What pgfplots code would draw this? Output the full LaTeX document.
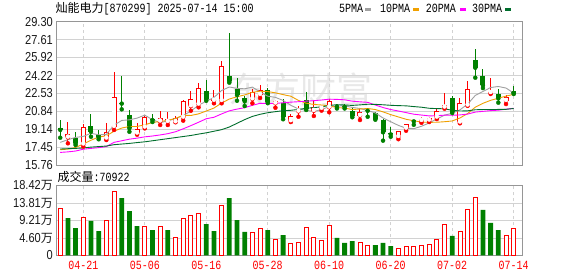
\documentclass[border=0pt]{standalone}
\usepackage{fontspec}
\setmainfont{Liberation Sans}
\newfontfamily\cjkfam{Noto Sans CJK SC}
\newfontfamily\monofam[FakeStretch=0.8]{Liberation Mono}
\newfontfamily\tickfam[FakeStretch=0.85]{Liberation Sans}
\usepackage{pgfplots}
\usepackage{pgfplotstable}
\pgfplotsset{compat=1.18}
\definecolor{cred}{RGB}{255,0,0}
\definecolor{cgreen}{RGB}{0,128,0}
\definecolor{mafive}{RGB}{160,160,160}
\definecolor{maten}{RGB}{240,160,0}
\definecolor{matwenty}{RGB}{255,0,255}
\definecolor{mathirty}{RGB}{0,110,45}
\definecolor{framec}{RGB}{150,150,150}
\definecolor{gridc}{RGB}{210,210,210}
\newcommand\cjk{\cjkfam\fontsize{12}{14}\selectfont}
\newcommand\mono{\monofam\fontsize{12.5}{14}\selectfont}
\newcommand\tickf{\tickfam\fontsize{13}{15}\selectfont}
\pgfplotsset{panel/.style={scale only axis, width=466pt, xmin=-0.55, xmax=60.08,
  anchor=south west,
  axis line style={draw=framec, line width=1pt},
  major tick length=0pt, tick style={draw=none},
  xtick={3,11,19,27,35,43,51,59},
  xmajorgrids, ymajorgrids,
  x grid style={draw=gridc, dash pattern=on 3pt off 3pt, line width=0.8pt},
  y grid style={draw=gridc, line width=0.8pt},
  yticklabel style={font=\tickf, text=black!90, inner sep=0pt, xshift=-3pt}},
  bar/.style 2 args={color=#1, only marks, mark=none, error bars/.cd, y dir=plus, y explicit, error mark=none,
    error bar style={color=#1, solid, line width=#2}}
}
\begin{document}
\pgfplotstableread{
i o h l c
1 18.37 19.82 17.81 18.66
3 17.72 19.60 17.50 19.32
6 18.28 19.70 18.12 18.85
7 19.38 24.55 19.07 22.16
10 18.75 19.70 18.62 19.13
11 19.32 20.42 19.22 20.29
13 19.89 20.86 19.54 20.17
14 19.85 20.74 19.54 20.07
15 19.82 20.42 19.80 20.17
16 20.26 21.90 19.95 21.80
17 21.33 22.75 20.89 22.02
18 21.49 23.48 21.21 23.00
20 21.85 22.82 21.59 21.95
21 21.83 25.56 21.59 25.09
25 21.99 22.94 21.59 22.68
26 22.40 23.32 22.09 22.81
28 21.59 21.90 21.17 21.81
30 19.92 20.58 19.82 20.39
31 20.83 21.33 20.32 21.05
33 20.89 21.90 20.39 21.21
34 21.10 21.40 20.90 21.25
35 21.21 21.99 20.74 21.80
39 20.42 21.02 20.01 20.74
44 18.43 18.97 18.20 18.97
45 19.22 19.66 19.00 19.60
47 19.95 20.32 19.75 20.02
48 19.98 20.32 19.82 20.20
49 20.26 21.11 20.10 20.86
50 21.21 22.60 21.08 21.40
52 19.79 22.05 19.70 21.59
53 21.40 23.69 21.35 22.91
56 22.58 23.98 22.47 22.68
58 21.83 22.35 21.52 22.16
}\up
\pgfplotstableread{
i o h l c
0 19.22 20.01 18.34 19.08
2 18.28 18.88 17.65 17.81
4 19.44 20.58 18.43 18.90
5 18.56 19.07 18.19 18.37
8 21.66 24.17 21.02 21.56
9 20.45 20.96 18.90 19.23
12 20.10 20.55 19.82 20.00
19 22.75 23.76 21.83 21.97
22 24.17 28.26 23.54 23.67
23 22.97 24.01 21.83 22.37
24 22.05 22.27 21.33 21.77
27 22.85 23.00 21.60 21.68
29 21.59 21.97 20.08 20.32
32 21.90 22.68 20.96 21.08
36 21.35 21.50 21.10 21.27
37 21.32 21.50 21.10 21.25
38 20.89 21.21 20.27 20.42
40 20.97 21.02 20.32 20.88
41 20.67 20.74 20.04 20.13
42 20.01 20.14 18.06 18.85
43 18.75 19.38 18.43 18.65
46 20.01 20.05 19.56 19.88
51 22.05 22.25 20.67 20.80
54 25.68 26.75 24.01 24.95
55 24.17 24.83 23.03 23.29
57 22.47 22.94 21.65 22.05
59 22.78 23.22 22.47 22.55
}\down
\pgfplotstableread{
i m5 m10 m20 m30
0 17.90 17.20 16.95 17.27
1 18.15 17.27 17.00 17.30
2 18.37 17.42 17.08 17.33
3 18.46 17.74 17.25 17.37
4 18.76 18.10 17.33 17.45
5 18.61 18.40 17.40 17.50
6 18.65 18.52 17.50 17.55
7 19.52 18.95 17.90 17.68
8 19.97 19.25 18.05 17.74
9 20.03 19.40 18.20 17.80
10 20.19 19.40 18.30 17.88
11 20.47 19.56 18.42 17.95
12 20.04 19.78 18.50 18.05
13 19.76 19.87 18.60 18.15
14 19.93 19.98 18.72 18.25
15 20.14 20.16 18.90 18.35
16 20.44 20.46 19.18 18.45
17 20.85 20.44 19.48 18.55
18 21.41 20.59 19.80 18.68
19 21.79 20.86 20.13 18.80
20 22.14 21.14 20.27 18.95
21 22.80 21.62 20.59 19.10
22 23.13 21.99 20.88 19.35
23 23.00 22.21 21.04 19.70
24 22.96 22.38 21.18 20.05
25 23.12 22.63 21.40 20.35
26 22.66 22.73 21.59 20.55
27 22.26 22.70 21.57 20.70
28 22.15 22.58 21.58 20.80
29 21.86 22.41 21.64 20.89
30 21.40 22.26 21.70 20.93
31 21.05 21.86 21.74 21.01
32 20.93 21.60 21.79 21.12
33 20.81 21.48 21.84 21.18
34 21.00 21.43 21.90 21.26
35 21.28 21.34 21.98 21.38
36 21.32 21.19 21.96 21.46
37 21.36 21.14 21.92 21.43
38 21.20 21.00 21.79 21.39
39 21.10 21.05 21.73 21.44
40 20.91 21.10 21.68 21.50
41 20.68 21.00 21.43 21.49
42 20.20 20.78 21.19 21.45
43 19.85 20.52 21.00 21.40
44 19.50 20.30 20.86 21.37
45 19.24 20.08 20.71 21.35
46 19.19 19.94 20.56 21.28
47 19.42 19.81 20.48 21.22
48 19.73 19.79 20.40 21.12
49 20.11 19.80 20.42 21.09
50 20.47 19.85 20.47 21.07
51 20.65 19.92 20.46 20.93
52 20.97 20.20 20.49 20.86
53 21.51 20.62 20.57 20.88
54 22.33 21.22 20.76 20.98
55 22.71 21.59 20.83 21.00
56 23.08 21.87 20.90 21.00
57 23.18 22.07 20.94 21.01
58 23.03 22.27 21.03 21.02
59 22.55 22.44 21.12 21.10
}\ma
\pgfplotstableread{
i v
0 12.52
3 10.05
6 9.34
7 17.02
11 7.75
13 7.75
15 4.84
16 9.79
17 10.67
18 11.20
21 13.31
25 6.17
26 7.22
28 4.31
30 3.26
31 3.52
32 7.41
33 4.76
34 3.97
35 7.94
39 3.44
40 2.65
44 1.85
45 2.38
46 2.38
47 2.65
48 2.99
49 4.23
50 8.20
52 6.35
53 12.17
54 15.35
58 5.29
59 7.09
}\vred
\pgfplotstableread{
i v
1 9.87
2 7.22
4 9.08
5 6.43
8 15.16
9 11.72
10 7.75
12 6.69
14 6.69
19 8.28
20 6.43
22 15.16
23 9.34
24 6.17
27 6.69
29 5.37
36 4.58
37 3.26
38 3.78
41 2.72
42 3.26
43 2.46
51 5.11
55 11.99
56 8.55
57 6.69
}\vgreen
\begin{tikzpicture}
\useasboundingbox (0,0) rectangle (578pt,276pt);
\fill[white] (0,0) rectangle (578pt,276pt);
\node[text=black!9, font=\cjkfam\fontsize{36}{40}\selectfont, inner sep=0pt] at (300pt,186pt) {东方财富};
% price panel
\begin{axis}[panel, at={(56pt,111pt)}, height=143.3pt,
  ymin=15.76, ymax=29.30,
  ytick={15.76,17.45,19.14,20.84,22.53,24.22,25.92,27.61,29.30},
  yticklabels={15.76,17.45,19.14,20.84,22.53,24.22,25.92,27.61,29.30},
  xticklabels={,,,,,,,}]
\addplot[bar={cred}{1pt}] table[x=i, y=l, y error plus expr=\thisrow{h}-\thisrow{l}] {\up};
\addplot[bar={cgreen}{1pt}] table[x=i, y=l, y error plus expr=\thisrow{h}-\thisrow{l}] {\down};
\addplot[bar={cred}{5pt}] table[x=i, y=o, y error plus expr={max(\thisrow{c}-\thisrow{o},0.1)}] {\up};
\addplot[bar={white}{3.4pt}] table[x=i, y expr=\thisrow{o}+0.076, y error plus expr={max(\thisrow{c}-\thisrow{o}-0.152,0)}] {\up};
\addplot[bar={cgreen}{5pt}] table[x=i, y=c, y error plus expr={max(\thisrow{o}-\thisrow{c},0.1)}] {\down};
\addplot[mafive, line width=0.9pt, mark=none] table[x=i, y=m5] {\ma};
\addplot[maten, line width=0.9pt, mark=none] table[x=i, y=m10] {\ma};
\addplot[matwenty, line width=0.9pt, mark=none] table[x=i, y=m20] {\ma};
\addplot[mathirty, line width=0.9pt, mark=none] table[x=i, y=m30] {\ma};
\end{axis}
% volume panel
\begin{axis}[panel, at={(56pt,20.7pt)}, height=69.6pt,
  ymin=0, ymax=18.42,
  ytick={0,4.60,9.21,13.81,18.42},
  yticklabels={0,4.60{\cjk 万},9.21{\cjk 万},13.81{\cjk 万},18.42{\cjk 万}},
  xticklabels={04-21,05-06,05-16,05-28,06-10,06-20,07-02,07-14},
  xticklabel style={font=\mono, text=cred, anchor=base, inner sep=0pt, yshift=-14pt}]
\addplot[ybar, bar width=4pt, bar shift=0pt, fill=white, draw=cred, line width=0.8pt] table[x=i, y=v] {\vred};
\addplot[ybar, bar width=4.8pt, bar shift=0pt, fill=cgreen, draw=none] table[x=i, y=v] {\vgreen};
\end{axis}
% header texts
\node[anchor=base west, inner sep=0pt] at (55.5pt,263.5pt) {\cjk 灿能电力\mono[870299] 2025-07-14 15:00};
\node[anchor=base west, inner sep=0pt] at (339pt,263.5pt) {\mono 5PMA};
\fill[mafive] (365pt,265pt) rectangle (371pt,267.7pt);
\node[anchor=base west, inner sep=0pt] at (380pt,263.5pt) {\mono 10PMA};
\fill[maten] (413pt,265pt) rectangle (418.5pt,267.7pt);
\node[anchor=base west, inner sep=0pt] at (425.7pt,263.5pt) {\mono 20PMA};
\fill[matwenty] (460pt,265pt) rectangle (465.5pt,267.7pt);
\node[anchor=base west, inner sep=0pt] at (472pt,263.5pt) {\mono 30PMA};
\fill[mathirty] (505pt,265pt) rectangle (510.7pt,267.7pt);
\node[anchor=base west, inner sep=0pt] at (57.5pt,95pt) {\cjk 成交量\mono:70922};
\end{tikzpicture}
\end{document}
